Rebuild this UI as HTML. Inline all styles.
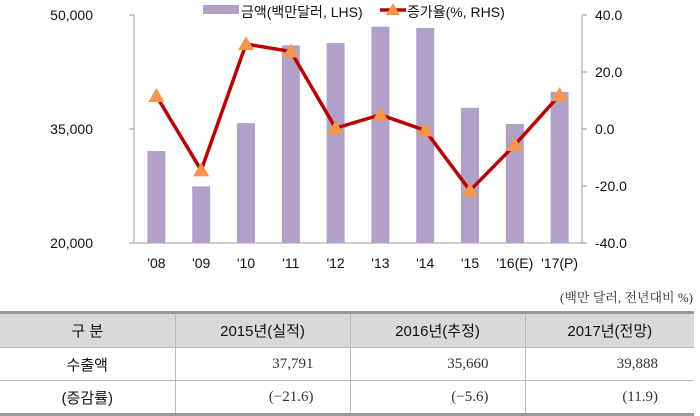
<!DOCTYPE html>
<html><head><meta charset="utf-8"><style>
body{margin:0;width:700px;height:414px;background:#fff;overflow:hidden;font-family:"Liberation Sans","Noto Sans CJK KR",sans-serif}
svg{position:absolute;left:0;top:0}
#note{position:absolute;right:7px;top:287px;font:13px "Liberation Serif","Noto Serif CJK SC",serif;color:#333}
table{position:absolute;left:0;top:311px;width:694px;border-collapse:collapse;font-size:15px;color:#111}
td{height:32px;border-bottom:1px solid #bbb;border-left:1px solid #bbb;padding:0}
td:first-child{border-left:none;text-align:center}
tr.h td{background:#d9d9d9;text-align:center;height:33px}
table{border-top:3px solid #999;border-bottom:3px solid #999}
td.v{text-align:right;padding-right:36px;font-family:"Liberation Serif","Noto Serif CJK SC",serif;color:#333}
</style></head><body>
<svg width="700" height="300" id="chart"></svg>
<div id="note">(백만 달러, 전년대비 %)</div>
<table>
<colgroup><col style="width:175px"><col style="width:175px"><col style="width:175px"><col></colgroup>
<tr class="h"><td>구 분</td><td>2015년(실적)</td><td>2016년(추정)</td><td>2017년(전망)</td></tr>
<tr><td>수출액</td><td class="v">37,791</td><td class="v">35,660</td><td class="v">39,888</td></tr>
<tr><td>(증감률)</td><td class="v">(−21.6)</td><td class="v">(−5.6)</td><td class="v">(11.9)</td></tr>
</table>
<script>
const categories=["'08","'09","'10","'11","'12","'13","'14","'15","'16(E)","'17(P)"];
const amounts=[32100,27450,35770,46000,46300,48470,48290,37791,35660,39888];
const growth=[11.6,-14.5,29.8,27.2,0.3,5.0,-0.5,-21.6,-5.6,11.9];
const leftTicks=[20000,35000,50000];
const rightTicks=[-40,-20,0,20,40];
const L=134,R=582,T=15,B=243;
const NS="http://www.w3.org/2000/svg";
const svg=document.getElementById('chart');
function mk(t,a,txt){const e=document.createElementNS(NS,t);for(const k in a)e.setAttribute(k,a[k]);if(txt!=null)e.textContent=txt;svg.appendChild(e);return e;}
const bw=(R-L)/categories.length;
const xc=i=>L+bw*(i+0.5);
const yL=v=>B-(v-20000)/30000*(B-T);
const yR=v=>B-(v+40)/80*(B-T);
let e;
e=mk('line',{x1:L,y1:T,x2:L,y2:B,stroke:'#999'});

e=mk('line',{x1:R,y1:T,x2:R,y2:B,stroke:'#999'});

e=mk('line',{x1:L,y1:B,x2:R,y2:B,stroke:'#999'});

leftTicks.forEach(v=>{const y=yL(v);mk('line',{x1:L-5,y1:y,x2:L,y2:y,stroke:'#999'});
e=mk('text',{x:L-41,y:y+5,'text-anchor':'end','font-size':14,fill:'#111'},v.toLocaleString('en-US'));
});
rightTicks.forEach(v=>{const y=yR(v);mk('line',{x1:R,y1:y,x2:R+5,y2:y,stroke:'#999'});
e=mk('text',{x:R+13,y:y+5,'font-size':14,fill:'#111'},v.toFixed(1));
});
amounts.forEach((v,i)=>{e=mk('rect',{x:xc(i)-9,y:yL(v),width:18,height:B-yL(v),fill:'#b1a0c7'});
});
categories.forEach((c,i)=>{e=mk('text',{x:xc(i),y:268,'text-anchor':'middle','font-size':14,fill:'#111'},c);
});
e=mk('polyline',{points:growth.map((v,i)=>xc(i)+','+yR(v)).join(' '),fill:'none',stroke:'#c00000','stroke-width':3.5,'stroke-linejoin':'round'});

growth.forEach((v,i)=>{const x=xc(i),y=yR(v);e=mk('polygon',{points:`${x},${y-8} ${x-8},${y+6} ${x+8},${y+6}`,fill:'#f79646'});
});
e=mk('rect',{x:203,y:5,width:36,height:9,fill:'#b1a0c7'});

e=mk('text',{x:241,y:17,'font-size':14,fill:'#111'},'금액(백만달러, LHS)');

e=mk('line',{x1:380,y1:10,x2:406,y2:10,stroke:'#c00000','stroke-width':3.5});

e=mk('polygon',{points:'393,3 386,15 400,15',fill:'#f79646'});

e=mk('text',{x:407,y:17,'font-size':14,fill:'#111'},'증가율(%, RHS)');

</script>
</body></html>
